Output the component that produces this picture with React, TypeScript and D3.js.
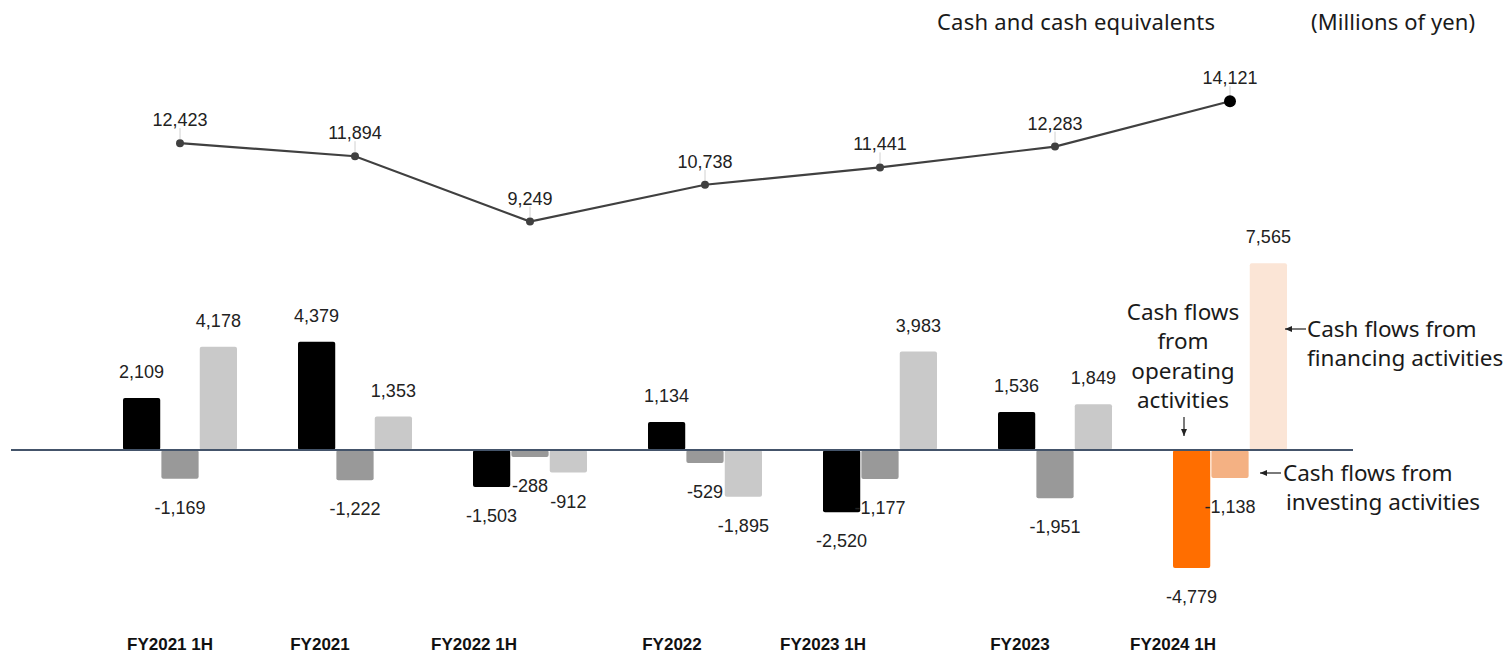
import React from "react";
import * as d3 from "d3";

const categories = ["FY2021 1H", "FY2021", "FY2022 1H", "FY2022", "FY2023 1H", "FY2023", "FY2024 1H"];
const operating = [2109, 4379, -1503, 1134, -2520, 1536, -4779];
const investing = [-1169, -1222, -288, -529, -1177, -1951, -1138];
const financing = [4178, 1353, -912, -1895, 3983, 1849, 7565];
const cashEquivalents = [12423, 11894, 9249, 10738, 11441, 12283, 14121];
const seriesNames = ["operating", "investing", "financing"];

// layout constants (not data)
const W = 1506;
const H = 653;
const baseColors = ["#000000", "#999999", "#c9c9c9"];
const highlightColors = ["#ff6e00", "#f4b183", "#fbe5d6"];
const xLabelShift = [-10, -35, -56, -33, -57, -35, -57];

const locale = d3.formatLocale({
  decimal: ".",
  thousands: ",",
  grouping: [3],
  currency: ["", ""],
  minus: "-",
});
const fmt = locale.format(",");
const numFont = "'Liberation Sans', Arial, sans-serif";
const annFont = "'Noto Sans', 'Open Sans', sans-serif";

export default function App() {
  const x = d3.scalePoint<string>().domain(categories).range([180, 1230]);
  const sub = d3.scaleBand<string>().domain(seriesNames).range([-57, 57]).paddingInner(0.03);
  const y = d3.scaleLinear().domain([0, 10000]).range([450, 450 - 247]);

  const seriesValues = [operating, investing, financing];
  const lastIdx = categories.length - 1;

  const line = d3
    .line<number>()
    .x((_, i) => x(categories[i])!)
    .y((d) => y(d));

  const bars: React.ReactNode[] = [];
  const barLabels: React.ReactNode[] = [];
  categories.forEach((c, ci) => {
    seriesNames.forEach((s, si) => {
      const v = seriesValues[si][ci];
      const bx = x(c)! + sub(s)!;
      const bw = sub.bandwidth();
      const y0 = y(0);
      const y1 = y(v);
      const color = ci === lastIdx ? highlightColors[si] : baseColors[si];
      bars.push(
        <rect
          key={`b-${ci}-${si}`}
          x={bx}
          y={Math.min(y0, y1)}
          width={bw}
          height={Math.abs(y1 - y0)}
          rx={2}
          fill={color}
        />
      );
      barLabels.push(
        <text
          key={`l-${ci}-${si}`}
          x={bx + bw / 2}
          y={v >= 0 ? y1 - 20 : y1 + 35}
          textAnchor="middle"
          fontFamily={numFont}
          fontSize={18}
          fill="#222"
        >
          {fmt(v)}
        </text>
      );
    });
  });

  return (
    <svg
      width={W}
      height={H}
      viewBox={`0 0 ${W} ${H}`}
      style={{ position: "absolute", left: 0, top: 0, background: "#fff" }}
    >
      <defs>
        <marker
          id="arr"
          markerWidth="8"
          markerHeight="8"
          refX="7"
          refY="4"
          orient="auto"
          markerUnits="userSpaceOnUse"
        >
          <path d="M0,1 L7,4 L0,7 z" fill="#222" />
        </marker>
      </defs>

      {/* header */}
      <text x={937} y={30} fontFamily={annFont} fontSize={22} fill="#1a1a1a" textLength={278}>
        Cash and cash equivalents
      </text>
      <text x={1311} y={30} fontFamily={annFont} fontSize={22} fill="#1a1a1a" textLength={164}>
        (Millions of yen)
      </text>

      {/* bars */}
      {bars}

      {/* zero line */}
      <line x1={11} x2={1353} y1={y(0)} y2={y(0)} stroke="#44546a" strokeWidth={2} />

      {barLabels}

      {/* cash & equivalents line */}
      <path d={line(cashEquivalents) || ""} fill="none" stroke="#404040" strokeWidth={2.2} />
      {cashEquivalents.map((v, i) => {
        const cx = x(categories[i])!;
        const cy = y(v);
        const last = i === lastIdx;
        return (
          <g key={`p-${i}`}>
            <line x1={cx} x2={cx} y1={cy - 15} y2={cy - 4} stroke="#d0d0d0" strokeWidth={1} />
            <circle cx={cx} cy={cy} r={last ? 6 : 4} fill={last ? "#000" : "#404040"} />
            <text
              x={cx}
              y={cy - 17}
              textAnchor="middle"
              fontFamily={numFont}
              fontSize={18}
              fill="#222"
            >
              {fmt(v)}
            </text>
          </g>
        );
      })}

      {/* x labels */}
      {categories.map((c, i) => (
        <text
          key={`x-${i}`}
          x={x(c)! + xLabelShift[i]}
          y={650}
          textAnchor="middle"
          fontFamily={numFont}
          fontSize={17}
          fontWeight="bold"
          fill="#111"
        >
          {c}
        </text>
      ))}

      {/* annotations */}
      <g fontFamily={annFont} fontSize={22.5} fill="#1a1a1a" textAnchor="middle">
        <text x={1183} y={320}>Cash flows</text>
        <text x={1183} y={349}>from</text>
        <text x={1183} y={379}>operating</text>
        <text x={1183} y={408}>activities</text>
      </g>
      <line x1={1184} x2={1184} y1={417} y2={436} stroke="#222" strokeWidth={1.2} markerEnd="url(#arr)" />

      <line x1={1306} x2={1285} y1={329} y2={329} stroke="#222" strokeWidth={1.2} markerEnd="url(#arr)" />
      <g fontFamily={annFont} fontSize={22.5} fill="#1a1a1a">
        <text x={1307} y={337}>Cash flows from</text>
        <text x={1307} y={366}>financing activities</text>
      </g>

      <line x1={1281} x2={1260} y1={473} y2={473} stroke="#222" strokeWidth={1.2} markerEnd="url(#arr)" />
      <g fontFamily={annFont} fontSize={22.5} fill="#1a1a1a">
        <text x={1283} y={481}>Cash flows from</text>
        <text x={1286} y={510}>investing activities</text>
      </g>
    </svg>
  );
}
